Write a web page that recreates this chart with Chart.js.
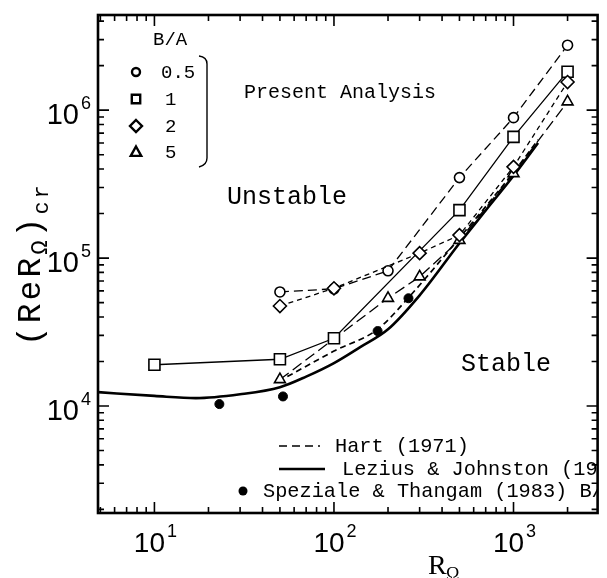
<!DOCTYPE html>
<html>
<head>
<meta charset="utf-8">
<script src="https://cdn.jsdelivr.net/npm/chart.js@4.4.0/dist/chart.umd.min.js"></script>
<style>
  html, body { margin: 0; padding: 0; background: #fff; }
  #wrap { width: 607px; height: 578px; }
</style>
</head>
<body>
<div id="wrap"><canvas id="grafico"></canvas></div>
<script>
// valores (R_omega, Re R_omega critico)
var rMedio = [50, 100, 200, 500, 1000, 2000];
var reMedio = [5.9e4, 6.2e4, 8.2e4, 3.5e5, 8.9e5, 2.75e6];
var rUno = [10, 50, 100, 500, 1000, 2000];
var reUno = [1.9e4, 2.07e4, 2.87e4, 2.11e5, 6.6e5, 1.82e6];
var rDos = [50, 100, 300, 500, 1000, 2000];
var reDos = [4.74e4, 6.25e4, 1.08e5, 1.43e5, 4.14e5, 1.55e6];
var rCinco = [50, 200, 300, 500, 1000, 2000];
var reCinco = [1.51e4, 5.35e4, 7.48e4, 1.32e5, 3.73e5, 1.14e6];
var rHart = [55, 100, 175, 260, 500, 1000, 1370];
var reHart = [1.58e4, 2.35e4, 3.3e4, 5.4e4, 1.37e5, 3.8e5, 6.3e5];
var rLezius = [4.85, 10, 17, 30, 50, 70, 100, 140, 200, 300, 500, 700, 1000, 1370];
var reLezius = [1.24e4, 1.17e4, 1.13e4, 1.2e4, 1.34e4, 1.58e4, 1.95e4, 2.5e4, 3.3e4, 5.6e4, 1.26e5, 2.1e5, 3.6e5, 6.0e5];
var rSpez = [23, 52, 175, 260];
var reSpez = [1.03e4, 1.16e4, 3.21e4, 5.35e4];
var etiquetasX = [10, 100, 1000];
var etiquetasY = [1e4, 1e5, 1e6];

function pares(xs, ys) {
    return xs.map(function (x, i) { return { x: x, y: ys[i] }; });
}

var MONO = '"Liberation Mono", "Courier New", monospace';
var SANS = '"Liberation Sans", Arial, sans-serif';
var SERIF = '"Liberation Serif", "Times New Roman", serif';

function serie(xs, ys, estilo, radio, guion, orden) {
    return {
        data: pares(xs, ys),
        borderColor: '#000',
        borderWidth: 1.3,
        borderDash: guion,
        pointStyle: estilo,
        pointRadius: radio,
        pointBorderWidth: 1.6,
        pointBorderColor: '#000',
        pointBackgroundColor: '#fff',
        tension: 0,
        order: orden
    };
}

function potencia(ctx, x, y, exp, alinear, tam) {
    ctx.font = tam + 'px ' + SANS;
    var w1 = ctx.measureText('10').width;
    ctx.font = Math.round(tam * 0.63) + 'px ' + SANS;
    var w2 = ctx.measureText(exp).width;
    var x0 = alinear === 'right' ? x - w1 - w2 - 2 : x - (w1 + w2 + 2) / 2;
    ctx.textAlign = 'left';
    ctx.textBaseline = 'alphabetic';
    ctx.font = tam + 'px ' + SANS;
    ctx.fillText('10', x0, y);
    ctx.font = Math.round(tam * 0.63) + 'px ' + SANS;
    ctx.fillText(exp, x0 + w1 + 2, y - tam * 0.52);
}

function marcador(ctx, tipo, x, y, r) {
    ctx.beginPath();
    if (tipo === 'circle') {
        ctx.arc(x, y, r, 0, Math.PI * 2);
    } else if (tipo === 'rect') {
        ctx.rect(x - r, y - r, 2 * r, 2 * r);
    } else if (tipo === 'rectRot') {
        ctx.moveTo(x, y - r); ctx.lineTo(x + r, y); ctx.lineTo(x, y + r); ctx.lineTo(x - r, y); ctx.closePath();
    } else {
        ctx.moveTo(x, y - r); ctx.lineTo(x + r * 0.95, y + r * 0.7); ctx.lineTo(x - r * 0.95, y + r * 0.7); ctx.closePath();
    }
    ctx.stroke();
}

var adornos = {
    id: 'adornos',
    afterDraw: function (chart) {
        var ctx = chart.ctx, a = chart.chartArea;
        var sx = chart.scales.x, sy = chart.scales.y;
        ctx.save();
        ctx.fillStyle = '#000';
        ctx.strokeStyle = '#000';

        // marcas hacia dentro en los cuatro lados
        ctx.lineWidth = 1.6;
        ctx.beginPath();
        for (var e = 0; e <= 3; e++) {
            for (var k = 1; k <= 9; k++) {
                var v = k * Math.pow(10, e);
                if (v < sx.min || v > sx.max) continue;
                var px = sx.getPixelForValue(v), L = k === 1 ? 11 : 6;
                ctx.moveTo(px, a.bottom); ctx.lineTo(px, a.bottom - L);
                ctx.moveTo(px, a.top); ctx.lineTo(px, a.top + L);
            }
        }
        for (var e2 = 3; e2 <= 6; e2++) {
            for (var k2 = 1; k2 <= 9; k2++) {
                var w = k2 * Math.pow(10, e2);
                if (w < sy.min || w > sy.max) continue;
                var py = sy.getPixelForValue(w), L2 = k2 === 1 ? 11 : 6;
                ctx.moveTo(a.left, py); ctx.lineTo(a.left + L2, py);
                ctx.moveTo(a.right, py); ctx.lineTo(a.right - L2, py);
            }
        }
        ctx.stroke();

        // marco
        ctx.lineWidth = 2.6;
        ctx.strokeRect(a.left, a.top, a.right - a.left, a.bottom - a.top);

        // etiquetas de los ejes
        etiquetasX.forEach(function (v) {
            potencia(ctx, sx.getPixelForValue(v) + 1, 552, String(Math.round(Math.log10(v))), 'center', 28);
        });
        etiquetasY.forEach(function (v) {
            potencia(ctx, 91, sy.getPixelForValue(v) + 14, String(Math.round(Math.log10(v))), 'right', 29);
        });

        // titulo eje x
        ctx.textAlign = 'left';
        ctx.font = '28px ' + SERIF;
        ctx.fillText('R', 428, 574);
        ctx.font = '18px ' + SERIF;
        ctx.fillText('\u03A9', 446, 580);

        // titulo eje y (girado)
        ctx.save();
        ctx.translate(40, 346);
        ctx.rotate(-Math.PI / 2);
        ctx.letterSpacing = '3px';
        ctx.font = '33px ' + MONO;
        var t1 = '(ReR';
        ctx.fillText(t1, 0, 0);
        var p = ctx.measureText(t1).width;
        ctx.font = '24px ' + MONO;
        ctx.fillText('\u03A9', p, 7);
        p += ctx.measureText('\u03A9').width;
        ctx.font = '33px ' + MONO;
        ctx.fillText(')', p, 0);
        p += ctx.measureText(')').width;
        ctx.font = '22px ' + MONO;
        ctx.fillText('cr', p, 8);
        ctx.letterSpacing = '0px';
        ctx.restore();

        // textos dentro del grafico, recortados al marco
        ctx.save();
        ctx.beginPath();
        ctx.rect(a.left, a.top, a.right - a.left, a.bottom - a.top);
        ctx.clip();
        ctx.textBaseline = 'middle';
        ctx.font = '19px ' + MONO;
        ctx.fillText('B/A', 153, 40);
        ctx.fillText('0.5', 161, 73);
        ctx.fillText('1', 165, 100);
        ctx.fillText('2', 165, 127);
        ctx.fillText('5', 165, 153);
        ctx.font = '20px ' + MONO;
        ctx.fillText('Present Analysis', 244, 93);
        ctx.font = '25px ' + MONO;
        ctx.fillText('Unstable', 227, 197);
        ctx.fillText('Stable', 461, 364);

        ctx.lineWidth = 2.4;
        marcador(ctx, 'circle', 136, 72, 4);
        marcador(ctx, 'rect', 136, 99, 4.2);
        marcador(ctx, 'rectRot', 136, 126, 6);
        marcador(ctx, 'triangle', 136, 152, 5.5);

        // llave
        ctx.lineWidth = 1.4;
        ctx.beginPath();
        ctx.moveTo(199, 56);
        ctx.quadraticCurveTo(207, 57, 207, 64);
        ctx.lineTo(207, 158);
        ctx.quadraticCurveTo(207, 165, 199, 167);
        ctx.stroke();

        // leyenda inferior
        ctx.font = '20.3px ' + MONO;
        ctx.lineWidth = 1.5;
        ctx.setLineDash([8, 5]);
        ctx.beginPath(); ctx.moveTo(279, 446); ctx.lineTo(320, 446); ctx.stroke();
        ctx.setLineDash([]);
        ctx.fillText('Hart (1971)', 335, 447);
        ctx.lineWidth = 2.5;
        ctx.beginPath(); ctx.moveTo(279, 469); ctx.lineTo(325, 469); ctx.stroke();
        ctx.fillText('Lezius & Johnston (1976)', 342, 470);
        ctx.beginPath(); ctx.arc(243, 491, 4.5, 0, Math.PI * 2); ctx.fill();
        ctx.fillText('Speziale & Thangam (1983) B/A=1', 263, 492);
        ctx.restore();

        ctx.restore();
    }
};

var ctx1 = document.getElementById('grafico').getContext('2d');
var grafico = new Chart(ctx1, {
    type: 'line',
    data: {
        datasets: [
            serie(rCinco, reCinco, 'triangle', 6.3, [11, 5], 4),
            serie(rDos, reDos, 'rectRot', 6.5, [5, 4], 1),
            serie(rMedio, reMedio, 'circle', 5, [9, 5], 2),
            serie(rUno, reUno, 'rect', 7.8, [], 3),
            {
                data: pares(rHart, reHart),
                borderColor: '#000', borderWidth: 1.7, borderDash: [6, 4],
                pointRadius: 0, cubicInterpolationMode: 'monotone', order: 6
            },
            {
                data: pares(rLezius, reLezius),
                borderColor: '#000', borderWidth: 2.6,
                pointRadius: 0, cubicInterpolationMode: 'monotone', order: 7
            },
            {
                data: pares(rSpez, reSpez),
                showLine: false, pointStyle: 'circle', pointRadius: 4.5,
                pointBackgroundColor: '#000', pointBorderColor: '#000', order: 5
            }
        ]
    },
    options: {
        responsive: true,
        maintainAspectRatio: false,
        animation: false,
        layout: { padding: { top: 15, right: 4, left: 0, bottom: 0 } },
        plugins: { legend: { display: false }, tooltip: { enabled: false } },
        scales: {
            x: {
                type: 'logarithmic', min: 4.85, max: 2940,
                grid: { display: false }, border: { display: false },
                ticks: { display: false },
                afterFit: function (s) { s.height = 65; }
            },
            y: {
                type: 'logarithmic', min: 1890, max: 4.4e6,
                grid: { display: false }, border: { display: false },
                ticks: { display: false },
                afterFit: function (s) { s.width = 98; }
            }
        }
    },
    plugins: [adornos]
});
</script>
</body>
</html>
